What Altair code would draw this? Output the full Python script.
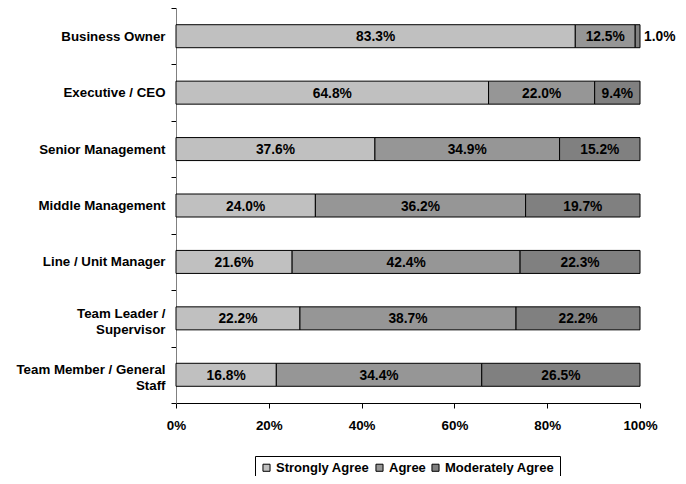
import altair as alt
import pandas as pd

roles = ["Business Owner", "Executive / CEO", "Senior Management", "Middle Management",
         "Line / Unit Manager", "Team Leader / Supervisor", "Team Member / General Staff"]
series = ["Strongly Agree", "Agree", "Moderately Agree"]
strongly = [83.3, 64.8, 37.6, 24.0, 21.6, 22.2, 16.8]
agree = [12.5, 22.0, 34.9, 36.2, 42.4, 38.7, 34.4]
moderately = [1.0, 9.4, 15.2, 19.7, 22.3, 22.2, 26.5]
colors = ["#c0c0c0", "#969696", "#808080"]
x_ticks = [0, 0.2, 0.4, 0.6, 0.8, 1.0]

rows = []
for i, r in enumerate(roles):
    for k, (s, vals) in enumerate(zip(series, [strongly, agree, moderately])):
        rows.append({"role": r, "series": s, "order": k, "value": vals[i],
                     "label": f"{vals[i]:.1f}%"})
df = pd.DataFrame(rows)

FONT = "Liberation Sans"

base = (
    alt.Chart(df)
    .transform_joinaggregate(total="sum(value)", groupby=["role"])
    .transform_window(cum="sum(value)", sort=[alt.SortField("order")],
                      groupby=["role"], frame=[None, 0])
    .transform_calculate(
        start="(datum.cum - datum.value) / datum.total",
        end="datum.cum / datum.total",
        mid="(datum.cum - datum.value / 2) / datum.total",
        frac="datum.value / datum.total",
    )
)

multi_test = "datum.label == 'Team Leader / Supervisor' || datum.label == 'Team Member / General Staff'"
label_expr = ("datum.label == 'Team Leader / Supervisor' ? ['Team Leader /', 'Supervisor'] : "
              "datum.label == 'Team Member / General Staff' ? ['Team Member / General', 'Staff'] : datum.label")

yenc = alt.Y(
    "role:N", sort=roles, title=None,
    scale=alt.Scale(paddingInner=0, paddingOuter=0),
    axis=alt.Axis(tickBand="extent", domainColor="#808080", tickColor="#000000",
                  tickSize=5, labelPadding=6, labelExpr=label_expr,
                  labelOffset={"condition": {"test": multi_test, "value": -5}, "value": 0},
                  labelFont=FONT, labelFontSize=13.3, labelFontWeight="bold",
                  labelColor="#000000", labelLineHeight=16, grid=False),
)

xscale = alt.Scale(domain=[0, 1], nice=False)
xaxis = alt.Axis(values=x_ticks, format=".0%", tickSize=5, domainColor="#000000",
                 tickColor="#000000", labelPadding=10, labelFlush=False,
                 labelFont=FONT, labelFontSize=13.4, labelFontWeight="bold",
                 labelColor="#000000", grid=False)

bars = base.mark_bar(stroke="#000000", strokeWidth=1, size=23).encode(
    y=yenc,
    x=alt.X("start:Q", scale=xscale, axis=xaxis, title=None),
    x2="end:Q",
    color=alt.Color(
        "series:N",
        scale=alt.Scale(domain=series, range=colors),
        sort=series,
        legend=alt.Legend(
            title=None, orient="none", direction="horizontal",
            legendX=79, legendY=448,
            strokeColor="#000000", padding=5, symbolType="square",
            symbolSize=50, symbolStrokeColor="#000000", symbolStrokeWidth=1,
            labelFont=FONT, labelFontSize=13, labelFontWeight="bold",
            labelColor="#000000", columnPadding=3, symbolOffset=0, labelOffset=3,
        ),
    ),
    order=alt.Order("order:Q"),
)

texts = base.transform_filter("datum.frac >= 0.03").mark_text(
    font=FONT, fontSize=13.8, fontWeight="bold", color="#000000", baseline="middle", dy=1
).encode(
    y=yenc,
    x=alt.X("mid:Q", scale=xscale, axis=xaxis, title=None),
    text="label:N",
)

small = base.transform_filter("datum.frac < 0.03").mark_text(
    font=FONT, fontSize=13.8, fontWeight="bold", color="#000000", baseline="middle",
    align="left", dx=4, dy=1
).encode(
    y=yenc,
    x=alt.X("end:Q", scale=xscale, axis=xaxis, title=None),
    text="label:N",
)

chart = (
    alt.layer(bars, texts, small)
    .properties(width=464, height=395,
                autosize=alt.AutoSizeParams(type="none"),
                padding={"left": 168, "top": 0, "right": 38, "bottom": 73})
    .configure_view(stroke=None)
)

chart.save("out.html", embed_options={"renderer": "svg", "actions": False})
